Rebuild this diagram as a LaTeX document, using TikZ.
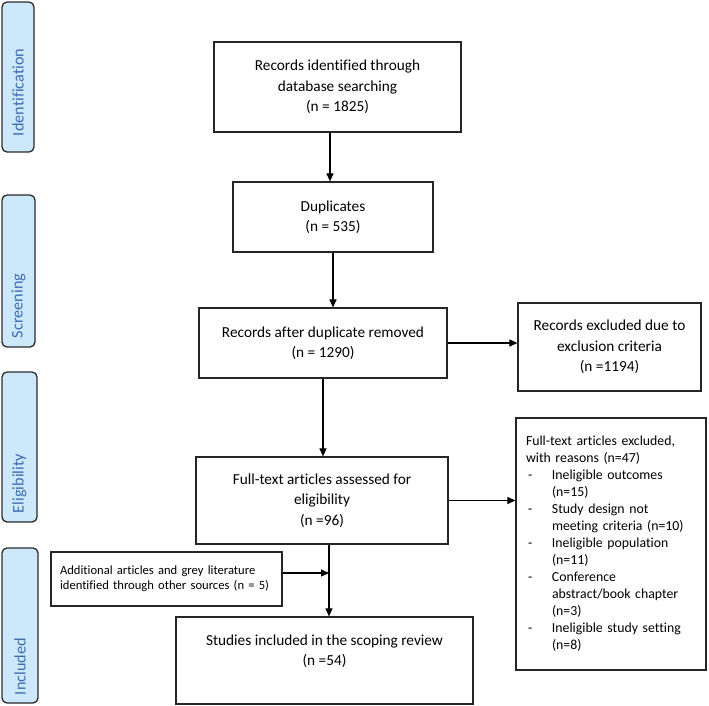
\documentclass[tikz,border=0pt]{standalone}
\usepackage{fontspec}
\setmainfont{Carlito}[Ligatures=NoCommon]
\usetikzlibrary{arrows.meta}
\definecolor{phasefill}{HTML}{CDE8FB}
\definecolor{phasetext}{HTML}{3D6CB0}
\definecolor{phaseline}{HTML}{2B2B2B}
\newcommand\rsnbul[1]{\makebox[26pt][l]{\hspace{2pt}-}#1}
\newcommand\rsncont[1]{\hspace*{26pt}#1}
\begin{document}
\begin{tikzpicture}[x=1pt,y=-1pt,
  box/.style={draw=black!85, line width=1.2pt, fill=white, align=center,
    font=\fontsize{15.3}{20.5}\selectfont, inner sep=0pt},
  phase/.style={draw=phaseline, fill=phasefill, rounded corners=5pt, line width=1.3pt,
    rotate=90, text=phasetext, font=\fontsize{16.2}{19}\selectfont, inner sep=0pt,
    align=left},
  arr/.style={line width=1.1pt, -{Triangle[length=8pt,width=7pt]}}]
\useasboundingbox (0,0) rectangle (709,705);

\node[phase, minimum width=150pt, minimum height=32pt, inner xsep=16pt, text width=118pt]
  (pid) at (18,77) {Identification};
\node[phase, minimum width=152pt, minimum height=33pt, inner xsep=9pt, text width=134pt]
  (psc) at (18.5,271) {Screening};
\node[phase, minimum width=150pt, minimum height=35pt, inner xsep=9pt, text width=132pt]
  (pel) at (19.5,447) {Eligibility};
\node[phase, minimum width=155pt, minimum height=36pt, inner xsep=8pt, text width=139pt]
  (pin) at (20,625.5) {Included};

\node[box, minimum width=247pt, minimum height=90pt] (rec) at (337.5,87)
  {Records identified through\\database searching\\(n = 1825)};
\node[box, minimum width=200pt, minimum height=70pt] (dup) at (333,217)
  {Duplicates\\(n = 535)};
\node[box, minimum width=248pt, minimum height=70pt] (after) at (323,343)
  {Records after duplicate removed\\(n = 1290)};
\node[box, minimum width=183pt, minimum height=88pt] (excl) at (609.5,347)
  {Records excluded due to\\exclusion criteria\\(n =1194)};
\node[box, minimum width=252pt, minimum height=87pt] (full) at (322,500.5)
  {Full-text articles assessed for\\eligibility\\(n =96)};
\node[box, minimum width=190pt, minimum height=252pt, align=left, text width=170pt,
  inner xsep=10pt, font=\fontsize{13.8}{17}\selectfont] (reas) at (611,544)
  {Full-text articles excluded,\\
   with reasons (n=47)\\
   \rsnbul{Ineligible outcomes}\\
   \rsncont{(n=15)}\\
   \rsnbul{Study design not}\\
   \rsncont{meeting criteria (n=10)}\\
   \rsnbul{Ineligible population}\\
   \rsncont{(n=11)}\\
   \rsnbul{Conference}\\
   \rsncont{abstract/book chapter}\\
   \rsncont{(n=3)}\\
   \rsnbul{Ineligible study setting}\\
   \rsncont{(n=8)}};
\node[box, minimum width=231pt, minimum height=54pt, align=left, text width=213pt,
  inner xsep=9pt, font=\fontsize{12.6}{15}\selectfont] (add) at (166.5,579)
  {Additional articles and grey literature\\\mbox{identified through other sources (n = 5)}};
\node[box, minimum width=297pt, minimum height=87pt] (stud) at (324.5,660.5)
  {Studies included in the scoping review\\(n =54)\\\mbox{}};

\coordinate (a1) at ([xshift=-3pt]dup.north);
\draw[arr] (a1 |- rec.south) -- (a1);
\draw[arr] (dup.south) -- (dup.south |- after.north);
\draw[arr] (after.east) -- (excl.west |- after.east);
\draw[arr] (after.south) -- (after.south |- full.north);
\draw[arr] (full.east) -- (reas.west |- full.east);
\coordinate (c6) at ([xshift=7pt]full.south);
\draw[arr] (c6) -- (c6 |- stud.north);
\coordinate (addout) at ([yshift=6pt]add.east);
\draw[arr] (addout) -- (addout -| c6);
\end{tikzpicture}
\end{document}
